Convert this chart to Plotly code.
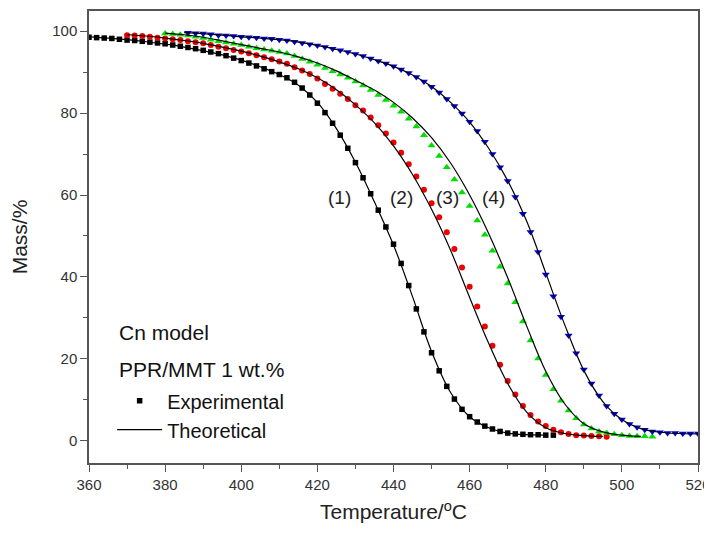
import plotly.graph_objects as go

# ---------------- data ----------------
# Experimental (markers), step 2 degC
t1_exp = list(range(360, 484, 2))
m1_exp = [98.5, 98.4, 98.3, 98.2, 98.0, 97.8, 97.7, 97.5, 97.3, 97.1,
          96.9, 96.6, 96.3, 96.0, 95.7, 95.3, 94.9, 94.5, 94.0, 93.4,
          92.8, 92.2, 91.5, 90.8, 90.1, 89.4, 88.6, 87.5, 86.1, 84.4,
          82.4, 80.1, 77.5, 74.6, 71.4, 67.9, 64.2, 60.3, 56.3, 52.2,
          48.0, 43.3, 37.9, 32.2, 26.6, 21.5, 17.1, 13.3, 10.2, 7.7,
          5.9, 4.6, 3.6, 2.9, 2.3, 1.9, 1.7, 1.6, 1.5, 1.5,
          1.4, 1.4]

t2_exp = list(range(370, 498, 2))
m2_exp = [99.0, 98.9, 98.8, 98.6, 98.4, 98.2, 98.0, 97.8, 97.5, 97.3,
          97.0, 96.6, 96.2, 95.8, 95.4, 95.0, 94.6, 94.1, 93.6, 93.1,
          92.6, 92.0, 91.2, 90.4, 89.5, 88.4, 87.1, 85.9, 84.7, 83.4,
          81.9, 80.6, 78.9, 77.0, 75.0, 72.8, 70.3, 67.5, 64.5, 61.3,
          58.0, 54.6, 50.9, 46.8, 42.3, 37.6, 32.8, 27.9, 23.2, 18.6,
          14.6, 11.3, 8.5, 6.3, 4.7, 3.6, 2.7, 2.1, 1.7, 1.4,
          1.3, 1.2, 1.1, 1.0]

t3_exp = list(range(380, 510, 2))
m3_exp = [99.4, 99.3, 99.1, 98.9, 98.6, 98.3, 97.9, 97.5, 97.2, 96.9,
          96.6, 96.2, 95.8, 95.5, 95.2, 94.9, 94.5, 93.9, 93.2, 92.5,
          91.8, 91.0, 90.2, 89.4, 88.6, 87.7, 86.7, 85.6, 84.4, 83.2,
          81.8, 80.3, 78.6, 76.7, 74.6, 72.1, 69.5, 66.8, 63.8, 60.6,
          57.3, 53.8, 50.3, 46.4, 42.5, 38.4, 33.8, 29.1, 24.5, 20.1,
          16.1, 12.6, 9.8, 7.4, 5.5, 4.0, 3.0, 2.3, 1.9, 1.6,
          1.4, 1.2, 1.1, 1.1, 1.0]

t4_exp = list(range(386, 522, 2))
m4_exp = [99.6, 99.5, 99.4, 99.2, 99.0, 98.9, 98.8, 98.6, 98.5, 98.4,
          98.2, 98.1, 97.9, 97.7, 97.4, 97.1, 96.8, 96.5, 96.1, 95.7,
          95.3, 94.9, 94.4, 93.9, 93.3, 92.7, 92.1, 91.4, 90.6, 89.8,
          88.8, 87.7, 86.4, 85.0, 83.4, 81.7, 79.9, 77.9, 75.6, 73.0,
          70.0, 66.8, 63.4, 59.5, 55.4, 51.0, 46.1, 40.6, 35.3, 30.3,
          25.7, 21.4, 17.4, 14.0, 11.1, 8.5, 6.6, 5.2, 4.1, 3.3,
          2.7, 2.3, 2.1, 1.9, 1.9, 1.8, 1.8, 1.8]

# Theoretical (lines), step 5 degC
t1_th = list(range(360, 485, 5))
m1_th = [98.6, 98.3, 97.9, 97.4, 96.8, 96.1, 95.2, 94.2, 92.9, 91.3,
         89.4, 86.8, 82.6, 76.2, 68.0, 58.3, 47.8, 35.2, 21.8, 11.8,
         5.9, 3.2, 1.9, 1.5, 1.4]

t2_th = list(range(370, 500, 5))
m2_th = [99.1, 98.8, 98.3, 97.7, 97.0, 96.1, 95.1, 93.9, 92.5, 90.8,
         88.6, 85.7, 82.0, 77.6, 72.0, 65.0, 56.5, 46.5, 35.0, 23.8,
         14.0, 7.0, 3.2, 1.8, 1.3, 1.1]

t3_th = list(range(380, 510, 5))
m3_th = [99.5, 99.1, 98.5, 97.6, 96.7, 95.8, 94.9, 93.7, 92.2, 90.3,
         88.0, 85.6, 82.6, 78.8, 74.0, 67.8, 60.0, 50.6, 39.8, 28.0,
         17.0, 9.0, 4.2, 2.2, 1.4, 1.1]

t4_th = list(range(385, 525, 5))
m4_th = [99.6, 99.4, 99.0, 98.6, 98.3, 97.9, 97.3, 96.5, 95.5, 94.4,
         93.0, 91.4, 89.3, 86.5, 82.6, 77.8, 71.4, 63.5, 53.6, 41.0,
         28.3, 17.2, 9.6, 5.2, 3.0, 2.1, 1.8, 1.7]

curve_labels = ["(1)", "(2)", "(3)", "(4)"]
label_t = [425.8, 442.0, 454.1, 466.2]
label_m = [59.3, 59.3, 59.3, 59.3]

x_ticks = list(range(360, 521, 20))
y_ticks = list(range(0, 101, 20))

FONT = "Liberation Sans, Arial, sans-serif"

fig = go.Figure()

exp_series = [
    (t1_exp, m1_exp, "#000000", "square", 5.5, True),
    (t2_exp, m2_exp, "#ee0000", "circle", 6, False),
    (t3_exp, m3_exp, "#00dd00", "triangle-up", 7, False),
    (t4_exp, m4_exp, "#0000dd", "triangle-down", 7, False),
]
th_series = [(t1_th, m1_th, True), (t2_th, m2_th, False),
             (t3_th, m3_th, False), (t4_th, m4_th, False)]

for t, m, c, sym, sz, show in exp_series:
    fig.add_trace(go.Scatter(
        x=t, y=m, mode="markers", name="Experimental",
        marker=dict(color=c, symbol=sym, size=sz, line=dict(width=0)),
        showlegend=show, legendrank=1))

for t, m, show in th_series:
    fig.add_trace(go.Scatter(
        x=t, y=m, mode="lines", name="Theoretical",
        line=dict(color="#000000", width=1.2, shape="spline"),
        showlegend=show, legendrank=2))

for lab, tx, my in zip(curve_labels, label_t, label_m):
    fig.add_annotation(x=tx, y=my, text=lab, showarrow=False,
                       font=dict(family=FONT, size=19, color="#222"))

fig.add_annotation(xref="paper", yref="paper", x=0.046, y=0.259,
                   text="Cn model", showarrow=False, xanchor="left",
                   font=dict(family=FONT, size=21, color="#111"))
fig.add_annotation(xref="paper", yref="paper", x=0.046, y=0.177,
                   text="PPR/MMT 1 wt.%", showarrow=False, xanchor="left",
                   font=dict(family=FONT, size=21, color="#111"))

axis_common = dict(
    showline=True, linecolor="#555", linewidth=1.5, mirror=True,
    showgrid=False, zeroline=False, automargin=False,
    ticks="outside", ticklen=7, tickwidth=1.2, tickcolor="#555",
    tickfont=dict(family=FONT, size=15, color="#333"),
)

fig.update_xaxes(
    range=[360, 520], tickvals=x_ticks,
    minor=dict(dtick=10, tick0=360, ticks="outside", ticklen=4,
               tickwidth=1, tickcolor="#555"),
    title=dict(text="Temperature/<sup>o</sup>C",
               font=dict(family=FONT, size=21, color="#222"), standoff=13),
    **axis_common)
fig.update_yaxes(
    range=[-5.4, 104.9], tickvals=y_ticks,
    minor=dict(dtick=10, tick0=0, ticks="outside", ticklen=4,
               tickwidth=1, tickcolor="#555"),
    title=dict(text="Mass/%", font=dict(family=FONT, size=21, color="#222"),
               standoff=19),
    **axis_common)

# page body has an 8px margin, so the figure is sized to fit the 712x536 window
fig.update_layout(
    width=704, height=528,
    margin=dict(l=81, r=14, t=3, b=73),
    paper_bgcolor="white", plot_bgcolor="white",
    legend=dict(x=0.038, y=0.181, xanchor="left", yanchor="top",
                bgcolor="rgba(0,0,0,0)", tracegroupgap=0,
                font=dict(family=FONT, size=20, color="#111"),
                itemwidth=45),
)

fig.write_html("out.html")
